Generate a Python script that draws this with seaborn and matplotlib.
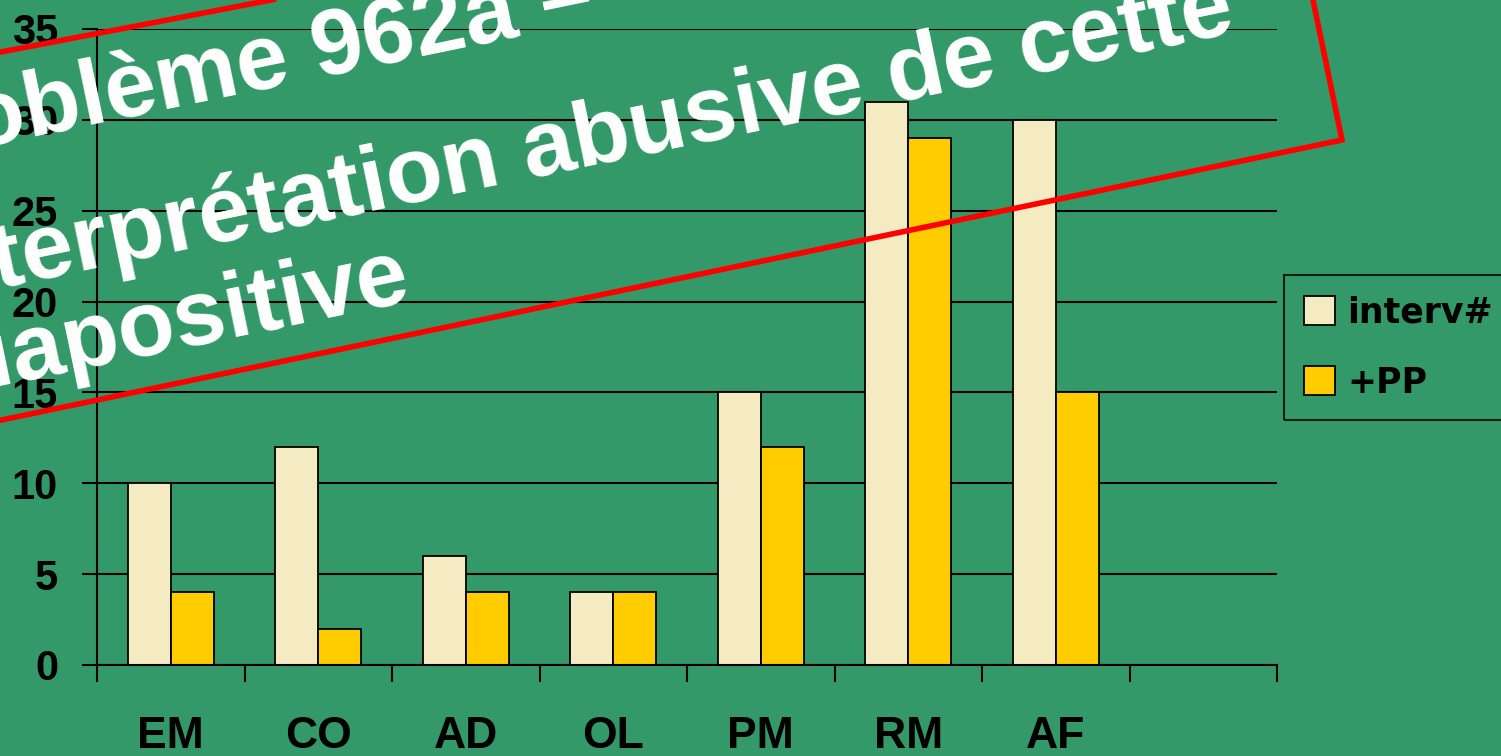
import numpy as np
import matplotlib
matplotlib.use("Agg")
import matplotlib.pyplot as plt
from matplotlib.patches import Polygon
import pandas as pd
import seaborn as sns

# data
categories = ["EM", "CO", "AD", "OL", "PM", "RM", "AF"]
series_names = ["interv#", "+PP"]
interv_values = [10, 12, 6, 4, 15, 31, 30]
pp_values = [4, 2, 4, 4, 12, 29, 15]
y_ticks = [0, 5, 10, 15, 20, 25, 30, 35]

overlay_lines = ["Problème 962a –", "Interprétation abusive de cette", "diapositive"]

BG = "#349968"
CREAM = "#F5EBC3"
GOLD = "#FFCC00"

W, H = 1501, 756


def px(x, y):
    # pixel (y down) -> figure fraction
    return (x / W, 1 - y / H)


df = pd.DataFrame({
    "cat": categories * 2,
    "value": interv_values + pp_values,
    "series": [series_names[0]] * len(categories) + [series_names[1]] * len(categories),
})

sns.set_theme(style="white")
plt.rcParams["font.family"] = ["Liberation Sans", "DejaVu Sans"]
plt.rcParams["font.weight"] = "bold"

fig = plt.figure(figsize=(W / 100, H / 100), dpi=100, facecolor=BG)
ax = fig.add_axes([97 / W, 1 - 665 / H, (1277 - 97) / W, (665 - 29) / H])
ax.set_facecolor(BG)

sns.barplot(data=df, x="cat", y="value", hue="series", order=categories,
            palette=[CREAM, GOLD], saturation=1, width=0.58,
            edgecolor="black", linewidth=1.3, ax=ax)

handles, labels = ax.get_legend_handles_labels()
if ax.get_legend() is not None:
    ax.get_legend().remove()

ax.set_xlim(-0.5, 7.5)
ax.set_ylim(0, 35)
ax.set_yticks(y_ticks)
ax.yaxis.grid(True, color="black", linewidth=1.5)
ax.set_axisbelow(True)
ax.set_xlabel("")
ax.set_ylabel("")

for s in ["top", "right"]:
    ax.spines[s].set_visible(False)
for s in ["left", "bottom"]:
    ax.spines[s].set_color("black")
    ax.spines[s].set_linewidth(1.5)

ax.tick_params(axis="y", length=11, width=1.5, color="black", pad=17,
               labelsize=30, labelcolor="black", left=True)
ax.set_xticks(np.arange(-0.5, 8, 1), minor=True)
ax.tick_params(axis="x", which="minor", length=12, width=1.5, color="black", bottom=True)
ax.tick_params(axis="x", which="major", length=0, pad=37, labelsize=32, labelcolor="black")
for t in ax.get_yticklabels() + ax.get_xticklabels():
    t.set_fontweight("bold")

leg = fig.legend(handles, labels, loc="upper left", bbox_to_anchor=px(1284, 275),
                 frameon=True, fancybox=False, handlelength=0.9,
                 handleheight=0.9, handletextpad=0.35, labelspacing=1.05,
                 borderpad=0.58, borderaxespad=0,
                 prop={"family": "DejaVu Sans", "weight": "bold", "size": 25})
leg.get_frame().set_facecolor("none")
leg.get_frame().set_edgecolor("black")
leg.get_frame().set_linewidth(1.5)
for h in leg.legend_handles:
    h.set_edgecolor("black")
    h.set_linewidth(1.3)
for t in leg.get_texts():
    t.set_color("black")

# red-framed tilted overlay box
box_corners = [(-300, 110), (1273, -193), (1342, 140), (-300, 483)]
fig.patches.append(Polygon([px(x, y) for x, y in box_corners], closed=True,
                           transform=fig.transFigure, fill=False,
                           edgecolor="#FF0000", linewidth=4, joinstyle="miter",
                           zorder=5))

line_starts = [(-122, 169), (-84, 305), (-64, 398)]
for text, (x, y) in zip(overlay_lines, line_starts):
    fx, fy = px(x, y)
    fig.text(fx, fy, text, rotation=11.7, rotation_mode="anchor",
             ha="left", va="baseline", fontsize=67, fontweight="bold",
             color="white", zorder=6)

fig.savefig("out.png", dpi=100, facecolor=BG)
